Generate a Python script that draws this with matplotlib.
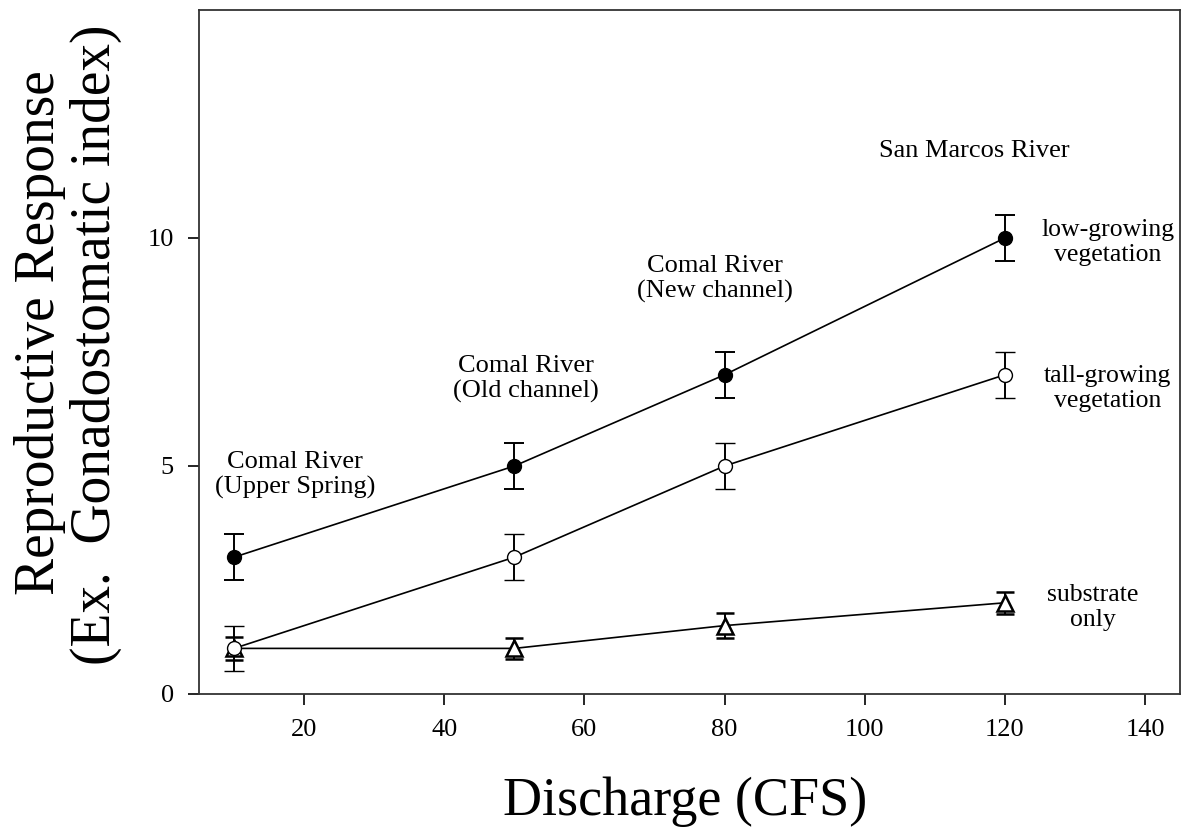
import numpy as np
import matplotlib
matplotlib.use("Agg")
import matplotlib.pyplot as plt

plt.rcParams['font.family'] = ['Liberation Serif', 'DejaVu Serif']

# discharge (CFS)
x = [10, 50, 80, 120]

low_y = [3, 5, 7, 10]
low_err = [0.5, 0.5, 0.5, 0.5]

tall_y = [1, 3, 5, 7]
tall_err = [0.5, 0.5, 0.5, 0.5]

sub_y = [1, 1, 1.5, 2]
sub_err = [0.25, 0.23, 0.27, 0.24]

site_labels = ["Comal River\n(Upper Spring)", "Comal River\n(Old channel)",
               "Comal River\n(New channel)", "San Marcos River"]
site_pos = [(18.7, 4.8), (51.6, 6.9), (78.7, 9.1), (115.6, 11.9)]

series_labels = ["low-growing\nvegetation", "tall-growing\nvegetation", "substrate\nonly"]
series_pos = [(134.7, 9.9), (134.7, 6.7), (132.6, 1.9)]

fig = plt.figure(figsize=(11.82, 8.31), dpi=100)
ax = fig.add_axes([199/1182, 137/831, 981/1182, 684/831])

kw = dict(color='black', lw=1.2, elinewidth=1.4, capthick=1.4)
ax.errorbar(x, sub_y, yerr=sub_err, marker='^', ms=11, capsize=6.5,
            mfc='white', mec='black', mew=1.8, **kw)
ax.errorbar(x, tall_y, yerr=tall_err, marker='o', ms=10, capsize=7.5,
            mfc='white', mec='black', mew=1.0, **kw)
ax.errorbar(x, low_y, yerr=low_err, marker='o', ms=10, capsize=7.5,
            mfc='black', mec='black', **kw)

for lab, (px, py) in zip(site_labels, site_pos):
    ax.text(px, py, lab, ha='center', va='center', fontsize=19, linespacing=1.15)
for lab, (px, py) in zip(series_labels, series_pos):
    ax.text(px, py, lab, ha='center', va='center', fontsize=18.5, linespacing=1.15)

ax.set_xlim(5, 145)
ax.set_ylim(0, 15)
ax.set_xticks([20, 40, 60, 80, 100, 120, 140])
ax.set_yticks([0, 5, 10])
ax.tick_params(direction='out', length=8, width=1.2, labelsize=19, pad=10)
ax.tick_params(top=False, right=False)
for s in ax.spines.values():
    s.set_linewidth(1.3)
    s.set_color('#333333')

fig.text(0.58, 0.035, "Discharge (CFS)", ha='center', va='center', fontsize=39)
fig.text(40/1182, 0.6, "Reproductive Response", rotation=90, ha='center', va='center', fontsize=40)
fig.text(96/1182, 0.585, "(Ex.  Gonadostomatic index)", rotation=90, ha='center', va='center', fontsize=40)

fig.savefig("out.png", dpi=100)
